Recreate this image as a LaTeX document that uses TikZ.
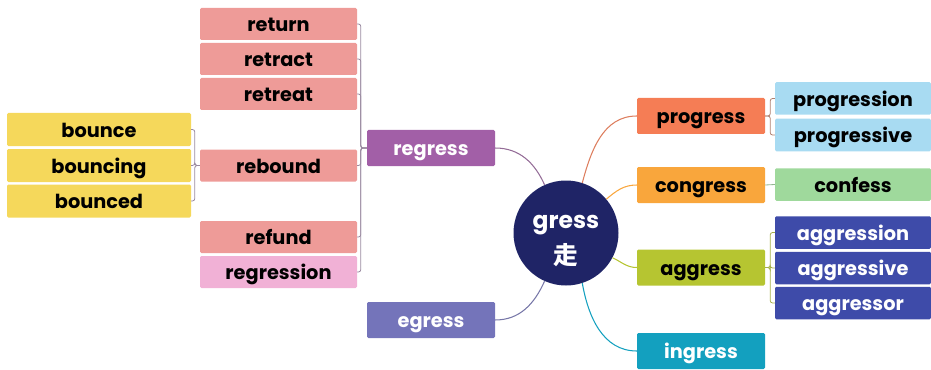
\documentclass[tikz,border=0pt]{standalone}
\usepackage{fontspec}
\setmainfont{Poppins}
\newfontfamily\cjkfont{Noto Sans CJK SC}
\begin{document}
\begin{tikzpicture}[x=0.03cm,y=-0.03cm,
  box/.style={rectangle,rounded corners=1.2pt,inner sep=0pt,text height=16pt,text depth=3pt,
    font=\fontsize{16.5}{18}\selectfont\bfseries,text=black},
  wbox/.style={box,text=white},
  lpink/.style={box,fill=salmonc,minimum width=157*0.03cm,minimum height=32*0.03cm},
  yel/.style={box,fill=yelc,minimum width=184*0.03cm,minimum height=33*0.03cm},
  mid/.style={minimum width=128*0.03cm,minimum height=36*0.03cm},
  rbox/.style={minimum width=156*0.03cm,minimum height=32.5*0.03cm},
  conn/.style={line width=0.7pt,rounded corners=2pt},
  curve/.style={line width=0.9pt}
]
\definecolor{salmonc}{HTML}{EE9B98}
\definecolor{pinkc}{HTML}{F1B1D6}
\definecolor{yelc}{HTML}{F5D85B}
\definecolor{regc}{HTML}{A25FA7}
\definecolor{egc}{HTML}{7474BA}
\definecolor{navyc}{HTML}{1F2466}
\definecolor{progc}{HTML}{F57D55}
\definecolor{congc}{HTML}{F9A63C}
\definecolor{aggc}{HTML}{B6C531}
\definecolor{ingc}{HTML}{13A0BF}
\definecolor{bluec}{HTML}{A8DBF2}
\definecolor{greenc}{HTML}{9FD99C}
\definecolor{dbluec}{HTML}{3E4BA9}
\definecolor{lconn}{HTML}{9A8AA0}
\useasboundingbox (0,0) rectangle (931,370);

% left branch
\node[lpink] (return) at (278.5,24) {return};
\node[lpink] (retract) at (278.5,59) {retract};
\node[lpink] (retreat) at (278.5,94) {retreat};
\node[lpink] (rebound) at (278.5,165.5) {rebound};
\node[lpink] (refund) at (278.5,237) {refund};
\node[lpink,fill=pinkc] (regression) at (278.5,272) {regression};
\node[yel] (bounce) at (99,129.5) {bounce};
\node[yel] (bouncing) at (99,165.5) {bouncing};
\node[yel] (bounced) at (99,201) {bounced};

\node[wbox,mid,fill=regc] (regress) at (431,148) {regress};
\node[wbox,mid,fill=egc] (egress) at (431,320) {egress};

\node[circle,fill=navyc,minimum size=105*0.03cm,inner sep=0pt,text=white,align=center,
  font=\fontsize{20}{24}\selectfont\bfseries] (c) at (566,233) {\rule{0pt}{20pt}\raisebox{-5pt}{gress}\\[6pt]{\cjkfont\bfseries\fontsize{21}{24}\selectfont 走}};

\node[box,mid,fill=progc] (progress) at (701,116) {progress};
\node[box,mid,fill=congc] (congress) at (701,185) {congress};
\node[box,mid,fill=aggc] (aggress) at (701,267.5) {aggress};
\node[wbox,mid,fill=ingc] (ingress) at (701,351) {ingress};

\node[box,rbox,fill=bluec] (progression) at (853,98.5) {progression};
\node[box,rbox,fill=bluec] (progressive) at (853,135) {progressive};
\node[box,rbox,fill=greenc] (confess) at (853,184.5) {confess};
\node[wbox,rbox,fill=dbluec] (aggression) at (853,232.5) {aggression};
\node[wbox,rbox,fill=dbluec] (aggressive) at (853,268) {aggressive};
\node[wbox,rbox,fill=dbluec] (aggressor) at (853,303) {aggressor};

% brackets
\foreach \t in {return,retract,retreat,rebound,refund,regression}
  \draw[conn,lconn] (regress.west) -- ++(-6,0) |- (\t.east);
\foreach \t in {bounce,bouncing,bounced}
  \draw[conn,lconn] (rebound.west) -- ++(-5,0) |- (\t.east);
\foreach \t in {progression,progressive}
  \draw[conn,color=progc!40!gray] (progress.east) -- ++(5,0) |- (\t.west);
\draw[conn,color=greenc!60!gray] (congress.east) -- (confess.west);
\foreach \t in {aggression,aggressive,aggressor}
  \draw[conn,color=aggc!70!gray] (aggress.east) -- ++(5,0) |- (\t.west);

% curves
\draw[curve,color=regc!60!gray] (regress.east) to[out=0,in=114] (c.114);
\draw[curve,color=egc!70!gray] (egress.east) to[out=0,in=-114] (c.-114);
\draw[curve,color=progc!80!gray] (c.72) to[out=75,in=180] (progress.west);
\draw[curve,color=congc] (c.40) to[out=40,in=180] (congress.west);
\draw[curve,color=aggc] (c.-28) to[out=-25,in=180] (aggress.west);
\draw[curve,color=ingc] (c.-72) to[out=-80,in=180] (ingress.west);
\end{tikzpicture}
\end{document}
